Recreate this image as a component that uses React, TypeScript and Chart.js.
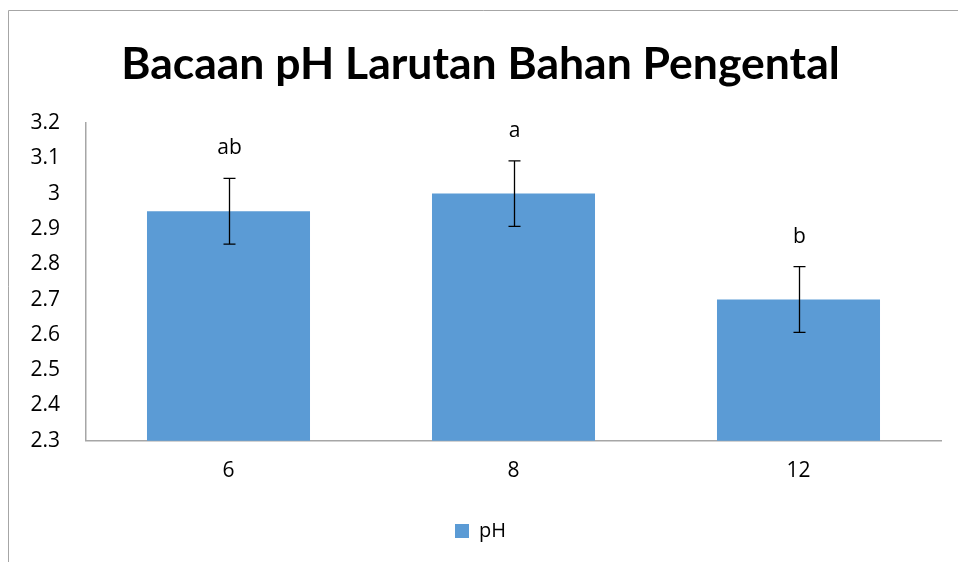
import React, { useEffect, useRef } from "react";
import { Chart, registerables } from "chart.js";

Chart.register(...registerables);

const categories = ["6", "8", "12"];
const phValues = [2.95, 3.0, 2.7];
const phErrors = [0.093, 0.093, 0.093];
const sigLetters = ["ab", "a", "b"];
const yTicks = [2.3, 2.4, 2.5, 2.6, 2.7, 2.8, 2.9, 3, 3.1, 3.2];

const FONT = "'Open Sans', 'DejaVu Sans', sans-serif";
const TITLE_FONT = "Lato, 'Open Sans', sans-serif";
const AXIS_COLOR = "#a6a6a6";

const framePlugin = {
  id: "frame",
  beforeDraw(chart: any) {
    const ctx = chart.ctx;
    ctx.save();
    ctx.fillStyle = "#ffffff";
    ctx.fillRect(0, 0, chart.width, chart.height);
    ctx.strokeStyle = "#a6a6a6";
    ctx.lineWidth = 1;
    ctx.beginPath();
    ctx.moveTo(8.5, chart.height);
    ctx.lineTo(8.5, 10.5);
    ctx.lineTo(chart.width, 10.5);
    ctx.stroke();
    ctx.restore();
  },
};

const errorPlugin = {
  id: "errorBars",
  afterDatasetsDraw(chart: any) {
    const ctx = chart.ctx;
    const meta = chart.getDatasetMeta(0);
    const y = chart.scales.y;
    ctx.save();
    ctx.strokeStyle = "#000000";
    ctx.lineWidth = 1.3;
    meta.data.forEach((bar: any, i: number) => {
      const x = Math.round(bar.x) + 0.5;
      const yTop = y.getPixelForValue(phValues[i] + phErrors[i]);
      const yBot = y.getPixelForValue(phValues[i] - phErrors[i]);
      ctx.beginPath();
      ctx.moveTo(x, yTop);
      ctx.lineTo(x, yBot);
      ctx.moveTo(x - 6, yTop);
      ctx.lineTo(x + 6, yTop);
      ctx.moveTo(x - 6, yBot);
      ctx.lineTo(x + 6, yBot);
      ctx.stroke();
      ctx.fillStyle = "#000000";
      ctx.font = `21px ${FONT}`;
      ctx.textAlign = "center";
      ctx.textBaseline = "middle";
      ctx.fillText(sigLetters[i], x, yTop - 30);
    });
    ctx.restore();
  },
};

export default function App() {
  const ref = useRef<HTMLCanvasElement | null>(null);
  useEffect(() => {
    if (!ref.current) return;
    const chart = new Chart(ref.current, {
      type: "bar",
      data: {
        labels: categories,
        datasets: [
          {
            label: "pH",
            data: phValues,
            backgroundColor: "#5b9bd5",
            borderWidth: 0,
            barPercentage: 1,
            categoryPercentage: 0.572,
          },
        ],
      },
      options: {
        animation: false,
        responsive: false,
        maintainAspectRatio: false,
        layout: { padding: { left: 20, right: 17, top: 0, bottom: 11 } },
        plugins: {
          title: {
            display: true,
            text: "Bacaan pH Larutan Bahan Pengental",
            color: "#000000",
            font: { family: TITLE_FONT, size: 44.5, weight: "bold" },
            padding: { top: 38, bottom: 31.6 },
          },
          legend: {
            position: "bottom",
            labels: {
              color: "#000000",
              font: { family: FONT, size: 20 },
              boxWidth: 14,
              boxHeight: 14,
              padding: 14,
            },
          },
          tooltip: { enabled: false },
        },
        scales: {
          x: {
            grid: { display: false },
            border: { display: true, color: AXIS_COLOR, width: 1.5 },
            ticks: { color: "#000000", font: { family: FONT, size: 21 }, padding: 10 },
            afterFit: (s: any) => {
              s.height += 13;
            },
          },
          y: {
            min: 2.3,
            max: 3.2,
            afterBuildTicks: (s: any) => {
              s.ticks = yTicks.map((v) => ({ value: v }));
            },
            afterFit: (s: any) => {
              s.width = 66;
            },
            grid: { display: false, drawTicks: false },
            border: { display: true, color: AXIS_COLOR, width: 1.5 },
            ticks: {
              color: "#000000",
              font: { family: FONT, size: 21 },
              padding: 26,
              callback: (v: any) => String(Math.round(Number(v) * 10) / 10),
            },
          },
        },
      },
      plugins: [framePlugin, errorPlugin],
    });
    return () => chart.destroy();
  }, []);
  return (
    <div style={{ position: "absolute", left: 0, top: 0, width: 958, height: 562 }}>
      <canvas ref={ref} width={958} height={562} style={{ display: "block" }} />
    </div>
  );
}
